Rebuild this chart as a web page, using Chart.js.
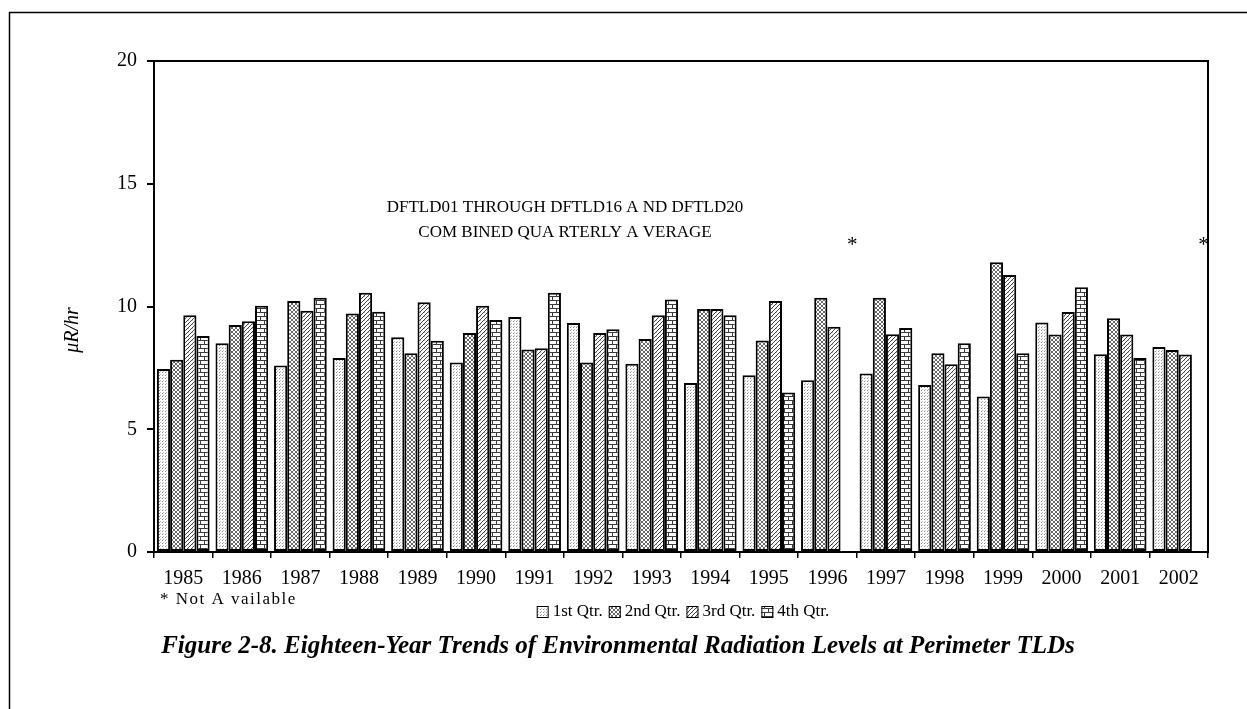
<!DOCTYPE html>
<html>
<head>
<meta charset="utf-8">
<script src="https://cdn.jsdelivr.net/npm/chart.js@4.4.1/dist/chart.umd.min.js"></script>
<style>
    html, body { margin: 0; padding: 0; background: #fff; }
    #wrap { width: 1247px; height: 709px; }
</style>
</head>
<body>
<div id="wrap"><canvas id="chart" width="1247" height="709"></canvas></div>
<script>
// Donnees (uR/hr, moyenne trimestrielle)
const years = ['1985', '1986', '1987', '1988', '1989', '1990', '1991', '1992', '1993',
               '1994', '1995', '1996', '1997', '1998', '1999', '2000', '2001', '2002'];
const q1 = [7.45, 8.50, 7.60, 7.90, 8.75, 7.72, 9.57, 9.33, 7.67, 6.88, 7.20, 7.00, 7.27, 6.80, 6.33, 9.35, 8.05, 8.35];
const q2 = [7.83, 9.25, 10.22, 9.71, 8.10, 8.92, 8.25, 7.72, 8.68, 9.90, 8.62, 10.36, 10.36, 8.10, 11.80, 8.86, 9.52, 8.23];
const q3 = [9.64, 9.40, 9.83, 10.56, 10.17, 10.03, 8.30, 8.92, 9.64, 9.90, 10.22, 9.18, 8.87, 7.65, 11.28, 9.78, 8.86, 8.04];
const q4 = [8.80, 10.03, 10.36, 9.79, 8.60, 9.45, 10.56, 9.07, 10.29, 9.64, 6.50, null, 9.12, 8.50, 8.10, 10.78, 7.90, null];
const seriesLabels = ['1st Qtr.', '2nd Qtr.', '3rd Qtr.', '4th Qtr.'];
const yTicks = [0, 5, 10, 15, 20];

const noteLines = ['DFTLD01 THROUGH DFTLD16 A ND DFTLD20', 'COM BINED QUA RTERLY A VERAGE'];
const notAvailable = '* Not A vailable';
const caption = 'Figure 2-8. Eighteen-Year Trends of Environmental Radiation Levels at Perimeter TLDs';
const yTitle = '\u03bcR/hr';

const SERIF = '"Liberation Serif", "Times New Roman", serif';

/**
 * Motifs de remplissage noir et blanc
 */
function makePattern(kind) {
    const c = document.createElement('canvas');
    const size = kind === 'brick' ? 8 : (kind === 'dots' ? 3 : 4);
    c.width = size;
    c.height = size;
    const g = c.getContext('2d');
    g.fillStyle = '#fff';
    g.fillRect(0, 0, size, size);
    const px = (x, y, col) => { g.fillStyle = col; g.fillRect(x, y, 1, 1); };
    if (kind === 'dots') {
        px(0, 0, '#8c8c8c');
        px(1, 2, '#bdbdbd');
    } else if (kind === 'cross') {
        for (let i = 0; i < 4; i++) {
            px(i, i, '#6a6a6a');
            px(3 - i, i, '#6a6a6a');
        }
    } else if (kind === 'diag') {
        for (let i = 0; i < 4; i++) px(3 - i, i, '#444');
        px(0, 0, '#bbb');
    } else if (kind === 'brick') {
        g.fillStyle = '#3a3a3a';
        g.fillRect(0, 0, 8, 1);
        g.fillRect(0, 4, 8, 1);
        g.fillRect(0, 1, 1, 3);
        g.fillRect(4, 5, 1, 3);
    }
    const ctx = document.getElementById('chart').getContext('2d');
    return ctx.createPattern(c, 'repeat');
}

const fills = [makePattern('dots'), makePattern('cross'), makePattern('diag'), makePattern('brick')];

// Textes, cadre, legende et asterisques
const decorPlugin = {
    id: 'decor',
    beforeDraw(chart) {
        const ctx = chart.ctx;
        ctx.save();
        ctx.fillStyle = '#fff';
        ctx.fillRect(0, 0, chart.width, chart.height);
        ctx.strokeStyle = '#000';
        ctx.lineWidth = 1.5;
        ctx.beginPath();
        ctx.moveTo(9.5, chart.height);
        ctx.lineTo(9.5, 12.5);
        ctx.lineTo(chart.width, 12.5);
        ctx.stroke();
        ctx.restore();
    },
    afterDraw(chart) {
        const ctx = chart.ctx;
        const a = chart.chartArea;
        const yScale = chart.scales.y;
        ctx.save();

        // cadre du graphique
        ctx.strokeStyle = '#000';
        ctx.lineWidth = 2;
        ctx.strokeRect(a.left, a.top, a.right - a.left, a.bottom - a.top);

        // titre axe y
        ctx.fillStyle = '#000';
        ctx.font = 'italic 20px ' + SERIF;
        ctx.textAlign = 'center';
        ctx.textBaseline = 'middle';
        ctx.translate(73, 330);
        ctx.rotate(-Math.PI / 2);
        ctx.fillText(yTitle, 0, 0);
        ctx.setTransform(1, 0, 0, 1, 0, 0);

        // note dans le graphique
        ctx.font = '17px ' + SERIF;
        ctx.fillText(noteLines[0], 565, 208);
        ctx.fillText(noteLines[1], 565, 233);

        // asterisques pour les valeurs manquantes
        ctx.font = '21px ' + SERIF;
        chart.data.datasets.forEach((ds, di) => {
            const meta = chart.getDatasetMeta(di);
            ds.data.forEach((v, i) => {
                if (v === null && meta.data[i]) {
                    ctx.fillText('*', meta.data[i].x + 5, yScale.getPixelForValue(12.5));
                }
            });
        });

        // note sous l'axe
        ctx.textAlign = 'left';
        ctx.font = '17px ' + SERIF;
        ctx.letterSpacing = '1.5px';
        ctx.fillText(notAvailable, 160, 600);
        ctx.letterSpacing = '0px';

        // legende
        ctx.font = '17px ' + SERIF;
        const box = 12;
        const widths = seriesLabels.map(l => box + 4 + ctx.measureText(l).width);
        const gap = 6;
        const total = widths.reduce((s, w) => s + w, 0) + gap * (widths.length - 1);
        let x = 683 - total / 2;
        const ly = 612;
        seriesLabels.forEach((label, i) => {
            ctx.fillStyle = fills[i];
            ctx.fillRect(x, ly - box / 2, box, box);
            ctx.strokeStyle = '#000';
            ctx.lineWidth = 1;
            ctx.strokeRect(x + 0.5, ly - box / 2 + 0.5, box - 1, box - 1);
            ctx.fillStyle = '#000';
            ctx.fillText(label, x + box + 4, ly);
            x += widths[i] + gap;
        });

        // legende de la figure
        ctx.textAlign = 'center';
        ctx.font = 'bold italic 25px ' + SERIF;
        ctx.fillText(caption, 618, 647);

        ctx.restore();
    }
};

Chart.defaults.font.family = SERIF;
Chart.defaults.color = '#000';

const datasets = [q1, q2, q3, q4].map((values, i) => ({
    label: seriesLabels[i],
    data: values,
    backgroundColor: fills[i],
    borderColor: '#000',
    borderWidth: 2,
    borderSkipped: false,
    categoryPercentage: 0.9,
    barPercentage: 1.0
}));

new Chart(document.getElementById('chart'), {
    type: 'bar',
    data: { labels: years, datasets: datasets },
    options: {
        responsive: false,
        animation: false,
        layout: { padding: { left: 10, right: 39, top: 61, bottom: 119 } },
        plugins: {
            legend: { display: false },
            tooltip: { enabled: false }
        },
        scales: {
            x: {
                offset: true,
                afterFit(scale) { scale.height = 38; },
                grid: {
                    offset: true,
                    drawOnChartArea: false,
                    drawTicks: true,
                    tickLength: 6,
                    color: '#000',
                    lineWidth: 1.5
                },
                border: { display: true, color: '#000', width: 2 },
                ticks: {
                    font: { size: 20 },
                    padding: 9,
                    maxRotation: 0,
                    autoSkip: false
                }
            },
            y: {
                min: 0,
                max: 20,
                afterFit(scale) { scale.width = 144; },
                afterBuildTicks(scale) { scale.ticks = yTicks.map(v => ({ value: v })); },
                grid: {
                    drawOnChartArea: false,
                    tickLength: 7,
                    color: '#000',
                    lineWidth: 2
                },
                border: { display: true, color: '#000', width: 2 },
                ticks: {
                    font: { size: 20 },
                    padding: 10
                }
            }
        }
    },
    plugins: [decorPlugin]
});
</script>
</body>
</html>
